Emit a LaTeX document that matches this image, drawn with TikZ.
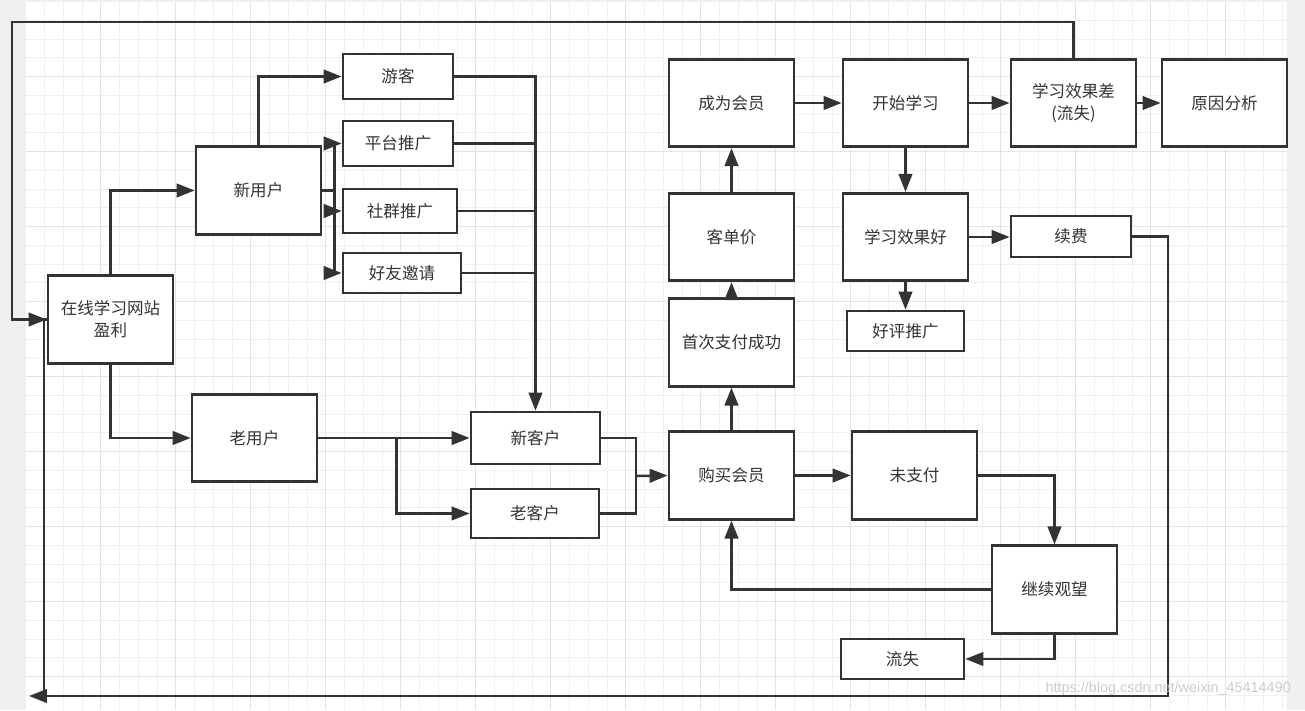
\documentclass[tikz,border=0pt]{standalone}
\usepackage{fontspec}
\newfontfamily\cjk{Noto Sans CJK SC}
\usetikzlibrary{arrows.meta,calc}
\definecolor{lc}{HTML}{333333}
\definecolor{gminor}{HTML}{F0F0F0}
\definecolor{gmajor}{HTML}{E3E3E3}
\definecolor{side}{HTML}{F0F0F0}
\tikzset{
  box/.style={draw=lc, line width=1.6pt, fill=white, inner sep=0pt, text=lc,
    font=\cjk\fontsize{9.4}{12.5}\selectfont, align=center,
    minimum width=2.5cm, minimum height=1.75cm},
  conn/.style={draw=lc, line width=1.45pt},
  arr/.style={conn, -{Triangle[length=0.36cm,width=0.27cm]}},
}
\begin{document}
\begin{tikzpicture}[x=0.02cm,y=-0.02cm]
\useasboundingbox (0,0) rectangle (1305,710);
% background and grid
\fill[side] (0,0) rectangle (1305,710);
\fill[white] (26,2) rectangle (1287,710);
\begin{scope}
\clip (26,2) rectangle (1287,710);
\foreach \i in {0,...,67} {
  \pgfmathtruncatemacro{\m}{mod(\i,4)}
  \ifnum\m=0 \draw[gmajor, line width=0.5pt] ({25.7+18.75*\i},2) -- ({25.7+18.75*\i},710);
  \else \draw[gminor, line width=0.5pt] ({25.7+18.75*\i},2) -- ({25.7+18.75*\i},710); \fi
}
\foreach \j in {0,...,37} {
  \pgfmathtruncatemacro{\m}{mod(\j,4)}
  \ifnum\m=0 \draw[gmajor, line width=0.5pt] (26,{1.5+18.75*\j}) -- (1287,{1.5+18.75*\j});
  \else \draw[gminor, line width=0.5pt] (26,{1.5+18.75*\j}) -- (1287,{1.5+18.75*\j}); \fi
}
\end{scope}

% nodes
\node[box] (zx) at (110.5,319.5) {在线学习网站\\盈利};
\node[box] (xyh) at (258.5,190.5) {新用户};
\node[box] (lyh) at (254.5,438) {老用户};
\node[box, minimum width=2.2cm, minimum height=0.9cm] (yk) at (398,76.5) {游客};
\node[box, minimum width=2.2cm, minimum height=0.9cm] (ptg) at (398,143.5) {平台推广};
\node[box, minimum width=2.28cm, minimum height=0.88cm] (sq) at (400,211) {社群推广};
\node[box, minimum width=2.36cm, minimum height=0.8cm] (hy) at (402,273) {好友邀请};
\node[box, minimum width=2.58cm, minimum height=1.04cm] (xkh) at (535.5,438) {新客户};
\node[box, minimum width=2.56cm, minimum height=0.98cm] (lkh) at (535,513.5) {老客户};
\node[box] (gm) at (731.5,475.5) {购买会员};
\node[box] (sc) at (731.5,342.5) {首次支付成功};
\node[box] (kd) at (731.5,237) {客单价};
\node[box] (cw) at (731.5,103) {成为会员};
\node[box] (ks) at (905.5,103) {开始学习};
\node[box] (xc) at (1073.5,103) {学习效果差\\(流失)};
\node[box] (yy) at (1224.5,103) {原因分析};
\node[box] (hh) at (905.5,237) {学习效果好};
\node[box, minimum width=2.4cm, minimum height=0.82cm] (xf) at (1071,236.5) {续费};
\node[box, minimum width=2.34cm, minimum height=0.8cm] (hp) at (905.5,331) {好评推广};
\node[box] (wzf) at (914.5,475.5) {未支付};
\node[box] (jx) at (1054.5,589.5) {继续观望};
\node[box, minimum width=2.46cm, minimum height=0.8cm] (ls) at (902.5,659) {流失};

% coordinates
\coordinate (mj) at (636,476);
\coordinate (tl) at (12,22);
\coordinate (br) at (1168,696);
\coordinate (bl) at (44,696);
\coordinate (blt) at (29,696);

% connectors
\draw[arr] (zx.north) |- (xyh.west);
\draw[arr] (zx.south) |- (lyh.west);
\draw[arr] (xyh.north) |- (yk.west);
\draw[arr] (xyh.east) -- ++(12,0) |- (ptg.west);
\draw[arr] (xyh.east) -- ++(12,0) |- (sq.west);
\draw[arr] (xyh.east) -- ++(12,0) |- (hy.west);
\draw[arr] (yk.east) -| (xkh.north);
\draw[conn] (ptg.east) -- (ptg.east -| xkh.north);
\draw[conn] (sq.east) -- (sq.east -| xkh.north);
\draw[conn] (hy.east) -- (hy.east -| xkh.north);
\draw[arr] (lyh.east) -- (xkh.west);
\draw[arr] (lyh.east) -- ++(78,0) |- (lkh.west);
\draw[conn] (xkh.east) -| (mj);
\draw[conn] (lkh.east) -| (mj);
\draw[arr] (mj) -- (gm.west);
\draw[arr] (gm.north) -- (sc.south);
\draw[arr] (sc.north) -- (kd.south);
\draw[arr] (kd.north) -- (cw.south);
\draw[arr] (cw.east) -- (ks.west);
\draw[arr] (ks.east) -- (xc.west);
\draw[arr] (xc.east) -- (yy.west);
\draw[arr] (ks.south) -- (hh.north);
\draw[arr] (hh.east) -- (hh.east -| xf.west);
\draw[arr] (hh.south) -- (hp.north);
\draw[arr] (gm.east) -- (wzf.west);
\draw[arr] (wzf.east) -| (jx.north);
\draw[arr] (jx.west) -| (gm.south);
\draw[arr] (jx.south) |- (ls.east);
\draw[arr] (xc.north) |- (tl) |- (zx.west);
\draw[conn] (xf.east) -| (br) -- (bl) |- (zx.west);
\draw[arr] (bl) -- (blt);

% watermark
\node[text=black!20, font=\fontspec{Liberation Sans}\fontsize{8.2}{10}\selectfont, anchor=east] (wm) at (1297,689) {https://blog.csdn.net/weixin\_45414490};
\end{tikzpicture}
\end{document}
